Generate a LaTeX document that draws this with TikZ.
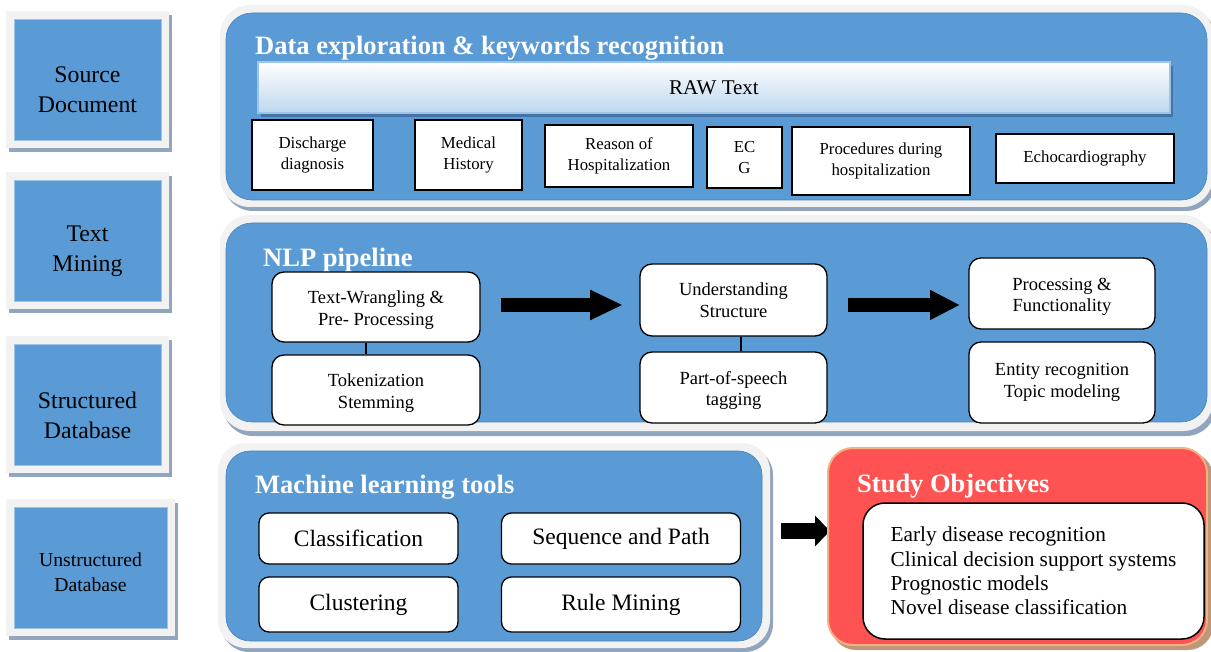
\documentclass[tikz,border=0pt]{standalone}
\usepackage{fontspec}
\setmainfont{Liberation Serif}
\usetikzlibrary{arrows.meta,calc}
\definecolor{pblue}{RGB}{91,155,213}
\definecolor{pblueedge}{RGB}{72,130,190}
\definecolor{framec}{RGB}{242,242,242}
\definecolor{shadc}{RGB}{145,165,190}
\definecolor{rawtop}{RGB}{255,255,255}
\definecolor{rawbot}{RGB}{189,215,238}
\definecolor{rawedge}{RGB}{157,195,230}
\definecolor{rawshad}{RGB}{70,115,165}
\definecolor{redc}{RGB}{255,82,82}
\definecolor{rededge}{RGB}{244,177,131}
\definecolor{redshad}{RGB}{190,150,120}
\newcommand\dn{\rule{0pt}{18.5pt}}
\begin{document}
\begin{tikzpicture}[x=1pt,y=-1pt,
  shad/.style={fill=shadc},
  frm/.style={fill=framec},
  bluepanel/.style={fill=pblue, draw=pblueedge, line width=0.6pt},
  srcbox/.style={fill=pblue, draw=rawedge, line width=0.5pt, minimum width=147pt, minimum height=121pt, inner sep=0pt},
  lefttext/.style={align=center, font=\fontsize{23.8}{30}\selectfont, inner sep=0pt},
  ptitle/.style={anchor=base west, text=white, font=\bfseries\fontsize{26.5}{30}\selectfont, inner sep=0pt},
  kbox/.style={draw=black, line width=1.3pt, fill=white, align=center, inner sep=0pt, font=\fontsize{16.8}{20.5}\selectfont},
  nbox/.style={draw=black, line width=1.3pt, fill=white, rounded corners=12pt, align=center, inner sep=0pt, font=\fontsize{18.5}{21.5}\selectfont},
  mbox/.style={draw=black, line width=1.3pt, fill=white, rounded corners=10pt, align=center, inner sep=0pt, font=\fontsize{23.5}{27}\selectfont},
  fatarrow/.style={draw=black, line width=14pt, -{Triangle[length=33pt, width=28pt]}},
  link/.style={draw=black, line width=1.3pt}
]
\useasboundingbox (0,0) rectangle (1211,652);
\fill[white] (0,0) rectangle (1211,652);

% ---------- left column ----------
\fill[shad] (9,15) rectangle (172,152);
\fill[frm] (6,11) rectangle (169,148);
\node[srcbox] (src) at (87.5,79.5) {};
\node[lefttext] (srct) at (87.5,90) {Source\\Document};

\fill[shad] (9,176) rectangle (172,313);
\fill[frm] (6,172) rectangle (169,309);
\node[srcbox] (tm) at (87.5,240.5) {};
\node[lefttext] (tmt) at (87.5,251) {Text\\Mining};

\fill[shad] (9,340) rectangle (172,477);
\fill[frm] (6,336) rectangle (169,473);
\node[srcbox] (sd) at (87.5,404.5) {};
\node[lefttext] (sdt) at (87.5,415) {Structured\\Database};

\fill[shad] (9,503) rectangle (178,640);
\fill[frm] (6,499) rectangle (175,636);
\node[srcbox, minimum width=153pt] (ud) at (90.5,567.5) {};
\node[lefttext, font=\fontsize{19.7}{25}\selectfont] (udt) at (90.5,572) {Unstructured\\Database};

% ---------- panel 1 ----------
\fill[shad, rounded corners=30pt] (223,9) rectangle (1216,211);
\fill[frm, rounded corners=30pt] (220,5) rectangle (1213,207);
\path[bluepanel, rounded corners=26pt] (226,13) rectangle (1207,200);
\node[ptitle] (t1) at (255,55) {Data exploration \& keywords recognition};
\fill[rawshad] (261,66) rectangle (1173,117);
\node[draw=rawedge, line width=1.5pt, top color=rawtop, bottom color=rawbot, minimum width=912pt, minimum height=51pt, inner sep=0pt, font=\fontsize{21}{24}\selectfont] (raw) at (714,87.5) {RAW Text};
\node[kbox, minimum width=121pt, minimum height=70pt] (dd) at (312.5,155) {Discharge\\diagnosis};
\node[kbox, minimum width=107pt, minimum height=70pt] (mh) at (468.5,155) {Medical\\History};
\node[kbox, minimum width=148pt, minimum height=62pt] (rh) at (619,156) {Reason of\\Hospitalization};
\node[kbox, minimum width=75pt, minimum height=61pt] (ecg) at (744.5,157.5) {EC\\G};
\node[kbox, minimum width=178pt, minimum height=68pt] (pdh) at (881,161) {Procedures during\\hospitalization};
\node[kbox, minimum width=178pt, minimum height=49pt] (echo) at (1085,158.5) {Echocardiography};

% ---------- panel 2 ----------
\fill[shad, rounded corners=30pt] (223,219) rectangle (1216,436);
\fill[frm, rounded corners=30pt] (220,215) rectangle (1213,431);
\path[bluepanel, rounded corners=26pt] (226,223) rectangle (1207,422);
\node[ptitle] (t2) at (263,267) {NLP pipeline};
\node[nbox, minimum width=208pt, minimum height=70pt] (tw) at (376,307) {\dn Text-Wrangling \&\\Pre- Processing};
\node[nbox, minimum width=208pt, minimum height=70pt] (tok) at (376,390) {\dn Tokenization\\Stemming};
\node[nbox, minimum width=187pt, minimum height=72pt] (us) at (733.5,300) {Understanding\\Structure};
\node[nbox, minimum width=187pt, minimum height=71pt] (pos) at (733.5,387.5) {\dn Part-of-speech\\tagging};
\node[nbox, minimum width=186pt, minimum height=71pt] (pf) at (1062,293.5) {\dn Processing \&\\Functionality};
\node[nbox, minimum width=186pt, minimum height=81pt] (er) at (1062,382.5) {Entity recognition\\Topic modeling};
\draw[link] ([xshift=-10pt]tw.south) -- ([xshift=-10pt]tok.north);
\draw[link] ([xshift=7.5pt]us.south) -- ([xshift=7.5pt]pos.north);
\coordinate (a1s) at (501,305);
\coordinate (a1e) at (623,305);
\coordinate (a2s) at (848,305);
\coordinate (a2e) at (960,305);
\draw[fatarrow] (a1s) -- (a1e);
\draw[fatarrow, -{Triangle[length=30pt, width=28pt]}] (a2s) -- (a2e);

% ---------- panel 3 ----------
\fill[shad, rounded corners=28pt] (221,447) rectangle (773,652);
\fill[frm, rounded corners=28pt] (218,443) rectangle (770,648);
\path[bluepanel, rounded corners=24pt] (226,451) rectangle (762,641);
\node[ptitle] (t3) at (255,493) {Machine learning tools};
\node[mbox, minimum width=199pt, minimum height=51pt] (cls) at (358.5,538.5) {Classification};
\node[mbox, minimum width=239pt, minimum height=51pt] (seq) at (621,538.5) {Sequence and Path};
\node[mbox, minimum width=199pt, minimum height=55pt] (clu) at (358.5,604.5) {Clustering};
\node[mbox, minimum width=239pt, minimum height=55pt] (rule) at (621,604.5) {Rule Mining};
\coordinate (a3s) at (781,531);
\coordinate (a3e) at (830,531);
\draw[fatarrow, line width=16pt, -{Triangle[length=15pt, width=30pt]}] (a3s) -- (a3e);

% ---------- study objectives ----------
\fill[redshad, rounded corners=25pt] (831,452) rectangle (1213,650);
\path[fill=redc, draw=rededge, line width=2pt, rounded corners=25pt] (828,448) rectangle (1207,645);
\node[ptitle] (t4) at (857,492) {Study Objectives};
\node[draw=black, line width=1.5pt, fill=white, rounded corners=22pt, minimum width=341pt, minimum height=136pt, inner sep=0pt, align=left, font=\fontsize{21.3}{24.4}\selectfont] (obj) at (1033.5,571) {Early disease recognition\\Clinical decision support systems\\Prognostic models\\Novel disease classification};
\end{tikzpicture}
\end{document}
